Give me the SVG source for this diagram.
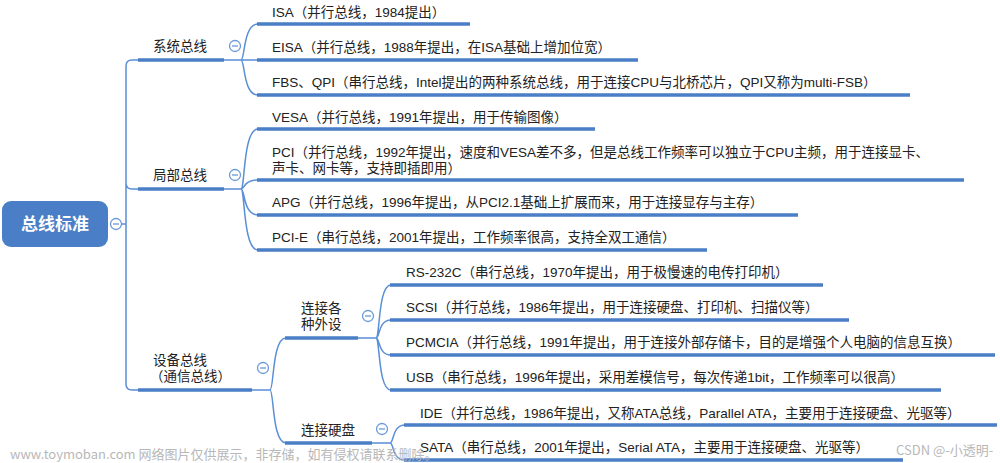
<svg xmlns="http://www.w3.org/2000/svg" width="1000" height="463" viewBox="0 0 1000 463">
<style>
.bg{fill:#ffffff}
.t{font-family:"Liberation Sans","Noto Sans CJK SC",sans-serif;font-size:13.5px;fill:#222222}
.tm{font-family:"Liberation Sans","Noto Sans CJK SC",sans-serif;font-size:13.5px;fill:#222222}
.root{font-family:"Noto Sans CJK SC","Noto Sans",sans-serif;font-size:17px;font-weight:bold;fill:#ffffff}
.wm{font-family:"Noto Sans CJK SC","Noto Sans",sans-serif;font-size:13px;fill:#b8b8b8}
.thin{fill:none;stroke:#5b8fd6;stroke-width:1.5}
.thick{fill:none;stroke:#4a7ec6;stroke-width:3.5}
.cc{fill:#ffffff;stroke:#6a9ad8;stroke-width:1.3}
.cm{stroke:#6a9ad8;stroke-width:1.3}
</style>
<defs>
<g id="collapse"><circle class="cc" cx="0" cy="0" r="5.5"/><line class="cm" x1="-3" y1="0" x2="3" y2="0"/></g>
</defs>
<rect class="bg" x="0" y="0" width="1000" height="463"/>
<g id="connectors">
<path class="thin" d="M121 224 H126 M138 60 H132 Q126 60 126 66 V384 Q126 390 132 390 H138 M126 183 Q126 189 132 189 H138"/>
<path class="thin" d="M224 60 H241 M241 60 C245 60 243 24 258 24 M241 60 H258 M241 60 C245 60 243 95 258 95"/>
<path class="thin" d="M224 189 H241 M241 189 C245 189 243 129 258 129 M241 189 C245 189 243 180 258 180 M241 189 C245 189 243 215 258 215 M241 189 C245 189 243 250 258 250"/>
<path class="thin" d="M252 390 H270 M270 390 C274 390 272 338 286 338 M270 390 C274 390 272 443 286 443"/>
<path class="thin" d="M358 338 H376 M376 338 C380 338 378 285 391 285 M376 338 C380 338 378 320 391 320 M376 338 C380 338 378 355 391 355 M376 338 C380 338 378 390 391 390"/>
<path class="thin" d="M372 443 H390 M390 443 C394 443 392 425 405 425 M390 443 C394 443 392 460 405 460"/>
</g>
<g id="root">
<rect x="2" y="201" width="106" height="46" rx="9" fill="#4a7ec6"/>
<text class="root" x="55" y="230" text-anchor="middle">总线标准</text>
<use href="#collapse" x="116" y="224"/>
</g>
<g id="n-system">
<text class="tm" x="153" y="51">系统总线</text>
<line class="thick" x1="138" y1="60" x2="224" y2="60"/>
<use href="#collapse" x="235" y="46"/>
</g>
<g id="n-isa">
<text class="t" x="272" y="17">ISA（并行总线，1984提出）</text>
<line class="thick" x1="257" y1="24" x2="470" y2="24"/>
</g>
<g id="n-eisa">
<text class="t" x="272" y="52">EISA（并行总线，1988年提出，在ISA基础上增加位宽）</text>
<line class="thick" x1="257" y1="60" x2="638" y2="60"/>
</g>
<g id="n-fbs">
<text class="t" x="272" y="87">FBS、QPI（串行总线，Intel提出的两种系统总线，用于连接CPU与北桥芯片，QPI又称为multi-FSB）</text>
<line class="thick" x1="257" y1="95" x2="910" y2="95"/>
</g>
<g id="n-local">
<text class="tm" x="153" y="180">局部总线</text>
<line class="thick" x1="138" y1="189" x2="224" y2="189"/>
<use href="#collapse" x="235" y="175"/>
</g>
<g id="n-vesa">
<text class="t" x="272" y="122">VESA（并行总线，1991年提出，用于传输图像）</text>
<line class="thick" x1="257" y1="129" x2="595" y2="129"/>
</g>
<g id="n-pci">
<text class="t" x="272" y="157">PCI（并行总线，1992年提出，速度和VESA差不多，但是总线工作频率可以独立于CPU主频，用于连接显卡、</text>
<text class="t" x="272" y="173">声卡、网卡等，支持即插即用）</text>
<line class="thick" x1="257" y1="180" x2="964" y2="180"/>
</g>
<g id="n-apg">
<text class="t" x="272" y="207">APG（并行总线，1996年提出，从PCI2.1基础上扩展而来，用于连接显存与主存）</text>
<line class="thick" x1="257" y1="215" x2="798" y2="215"/>
</g>
<g id="n-pcie">
<text class="t" x="272" y="242">PCI-E（串行总线，2001年提出，工作频率很高，支持全双工通信）</text>
<line class="thick" x1="257" y1="250" x2="707" y2="250"/>
</g>
<g id="n-device">
<text class="tm" x="153" y="365">设备总线</text>
<text class="tm" x="150" y="381">（通信总线）</text>
<line class="thick" x1="138" y1="390" x2="252" y2="390"/>
<use href="#collapse" x="263" y="368"/>
</g>
<g id="n-periph">
<text class="tm" x="301" y="313">连接各</text>
<text class="tm" x="301" y="329">种外设</text>
<line class="thick" x1="285" y1="338" x2="358" y2="338"/>
<use href="#collapse" x="368" y="316"/>
</g>
<g id="n-rs232">
<text class="t" x="406" y="277">RS-232C（串行总线，1970年提出，用于极慢速的电传打印机）</text>
<line class="thick" x1="390" y1="285" x2="823" y2="285"/>
</g>
<g id="n-scsi">
<text class="t" x="406" y="312">SCSI（并行总线，1986年提出，用于连接硬盘、打印机、扫描仪等）</text>
<line class="thick" x1="390" y1="320" x2="849" y2="320"/>
</g>
<g id="n-pcmcia">
<text class="t" x="406" y="347">PCMCIA（并行总线，1991年提出，用于连接外部存储卡，目的是增强个人电脑的信息互换）</text>
<line class="thick" x1="390" y1="355" x2="995" y2="355"/>
</g>
<g id="n-usb">
<text class="t" x="406" y="382">USB（串行总线，1996年提出，采用差模信号，每次传递1bit，工作频率可以很高）</text>
<line class="thick" x1="390" y1="390" x2="941" y2="390"/>
</g>
<g id="n-disk">
<text class="tm" x="301" y="435">连接硬盘</text>
<line class="thick" x1="285" y1="443" x2="372" y2="443"/>
<use href="#collapse" x="382" y="429"/>
</g>
<g id="n-ide">
<text class="t" x="420" y="418">IDE（并行总线，1986年提出，又称ATA总线，Parallel ATA，主要用于连接硬盘、光驱等）</text>
<line class="thick" x1="404" y1="425" x2="997" y2="425"/>
</g>
<g id="n-sata">
<text class="t" x="420" y="452">SATA（串行总线，2001年提出，Serial ATA，主要用于连接硬盘、光驱等）</text>
<line class="thick" x1="404" y1="460" x2="903" y2="460"/>
</g>
<g id="watermarks">
<text class="wm" x="10" y="459">www.toymoban.com 网络图片仅供展示，非存储，如有侵权请联系删除。</text>
<text class="wm" x="896" y="455" font-size="12">CSDN @-小透明-</text>
</g>
</svg>
